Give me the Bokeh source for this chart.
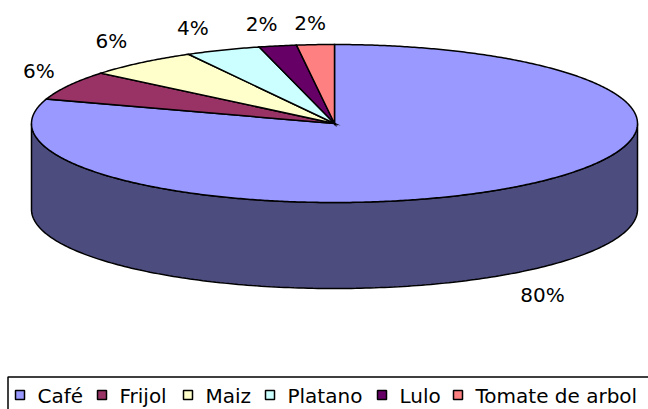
import numpy as np
from bokeh.plotting import figure
from bokeh.models import Range1d
from bokeh.core.properties import value
from bokeh.embed import file_html
from bokeh.resources import INLINE

# ---- data ----
categories = ["Café", "Frijol", "Maiz", "Platano", "Lulo", "Tomate de arbol"]
shares = [80, 6, 6, 4, 2, 2]
pct_labels = ["80%", "6%", "6%", "4%", "2%", "2%"]
top_colors = ["#9999FF", "#993366", "#FFFFCC", "#CCFFFF", "#660066", "#FF8080"]

# ---- layout (reference pixel coordinates, 648 x 409 canvas) ----
W, H = 648, 409
CX, CY, A, B, DEPTH = 334.0, 123.0, 303.0, 79.0, 86.0
FONT = value("DejaVu Sans")
FSIZE = "20px"


def darker(hexcol, f=0.5):
    h = hexcol.lstrip("#")
    r, g, b = (int(h[i:i + 2], 16) for i in (0, 2, 4))
    return "#%02X%02X%02X" % (int(r * f), int(g * f), int(b * f))


side_colors = [darker(c) for c in top_colors]

p = figure(width=W, height=H, x_range=Range1d(0, 648), y_range=Range1d(409, 0),
           output_backend="svg", toolbar_location=None, min_border=0,
           x_axis_type=None, y_axis_type=None)
p.grid.visible = False
p.outline_line_color = None
p.background_fill_color = "white"
p.border_fill_color = "white"

total = float(sum(shares))
fr = np.array(shares) / total
cum = np.concatenate([[0.0], np.cumsum(fr)])
theta = np.pi / 2 - 2 * np.pi * cum  # math angles, clockwise from top


def ell(t, dy=0.0):
    return CX + A * np.cos(t), CY - B * np.sin(t) + dy


# ---- side walls (front half: theta in [-pi, 0]) ----
side_xs, side_ys, side_cols = [], [], []
for i in range(len(shares)):
    t0, t1 = theta[i], theta[i + 1]  # t0 > t1
    hi, lo = min(t0, 0.0), max(t1, -np.pi)
    if hi > lo:
        ts = np.linspace(hi, lo, 200)
        x, y = ell(ts)
        xb, yb = ell(ts[::-1], DEPTH)
        side_xs.append(list(np.concatenate([x, xb])))
        side_ys.append(list(np.concatenate([y, yb])))
        side_cols.append(side_colors[i])
p.patches(side_xs, side_ys, fill_color=side_cols, line_color="black", line_width=1.5)

# ---- top slices ----
top_xs, top_ys = [], []
for i in range(len(shares)):
    n = max(8, int(abs(theta[i] - theta[i + 1]) * 120))
    ts = np.linspace(theta[i], theta[i + 1], n)
    x, y = ell(ts)
    top_xs.append([CX] + list(x))
    top_ys.append([CY] + list(y))
p.patches(top_xs, top_ys, fill_color=top_colors, line_color="black", line_width=1.5,
          line_join="miter")

# ---- percentage labels ----
lx, ly = [], []
for i in range(len(shares)):
    tm = 0.5 * (theta[i] + theta[i + 1])
    c, s = np.cos(tm), np.sin(tm)
    ex, ey = ell(tm, DEPTH if s < 0 else 0.0)
    lx.append(ex + np.sign(c) * 30 * min(1.0, abs(c) / 0.35))
    ly.append(ey - np.sign(s) * 22 * min(1.0, abs(s) / 0.75))
p.text(x=lx, y=ly, text=pct_labels, text_font=FONT, text_font_size=FSIZE,
       text_color="black", text_align="center", text_baseline="middle")

# ---- legend ----
p.quad(left=7.5, right=700, top=376.5, bottom=440, fill_color=None,
       line_color="black", line_width=1.5)
leg_x = [15, 97, 183, 265, 377, 453]
leg_y = 394.5
p.rect(x=[v + 4.5 for v in leg_x], y=[leg_y] * len(leg_x), width=9, height=9,
       fill_color=top_colors, line_color="black", line_width=1.5)
p.text(x=[v + 22 for v in leg_x], y=[leg_y + 1] * len(leg_x), text=categories,
       text_font=FONT, text_font_size=FSIZE, text_color="black",
       text_align="left", text_baseline="middle")

open("out.html", "w").write(file_html(p, INLINE))
